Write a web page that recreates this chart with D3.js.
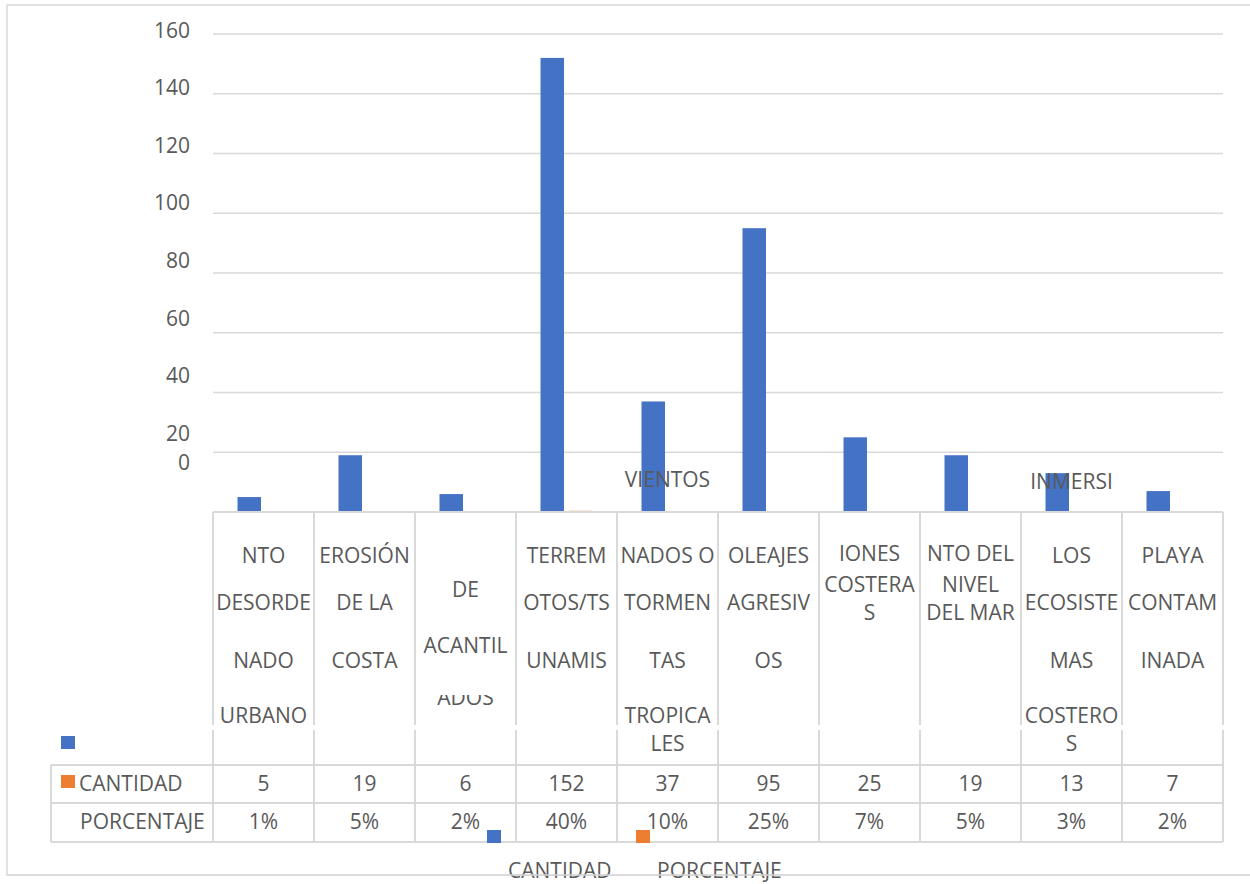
<!DOCTYPE html>
<html>
<head>
<meta charset="utf-8">
<script src="https://cdn.jsdelivr.net/npm/d3@7"></script>
<style>
  html, body { margin: 0; padding: 0; background: #fff; }
  svg { display: block; }
  text { font-family: "Open Sans", "Noto Sans", sans-serif; fill: #595959; }
</style>
</head>
<body>
<svg id="chart" width="1250" height="884"></svg>
<script>
// ---------------- DATA ----------------
const categories = [
  "CRECIMIENTO DESORDENADO URBANO",
  "EROSIÓN DE LA COSTA",
  "DESPRENDIMIENTO DE ACANTILADOS",
  "TERREMOTOS/TSUNAMIS",
  "VIENTOS HURACANADOS O TORMENTAS TROPICALES",
  "OLEAJES AGRESIVOS",
  "INUNDACIONES COSTERAS",
  "AUMENTO DEL NIVEL DEL MAR",
  "INMERSION DE LOS ECOSISTEMAS COSTEROS",
  "PLAYA CONTAMINADA"
];
// visible (wrapped / truncated) header text of each category
const categoryLines = [
  ["NTO", "DESORDE", "NADO", "URBANO"],
  ["EROSIÓN", "DE LA", "COSTA"],
  ["DE", "ACANTIL", "ADOS"],
  ["TERREM", "OTOS/TS", "UNAMIS"],
  ["NADOS O", "TORMEN", "TAS", "TROPICA", "LES"],
  ["OLEAJES", "AGRESIV", "OS"],
  ["IONES", "COSTERA", "S"],
  ["NTO DEL", "NIVEL", "DEL MAR"],
  ["LOS", "ECOSISTE", "MAS", "COSTERO", "S"],
  ["PLAYA", "CONTAM", "INADA"]
];
// fragments that spilled above the table
const overflowText = ["", "", "", "", "VIENTOS", "", "", "", "INMERSI", ""];
const seriesNames = ["CANTIDAD", "PORCENTAJE"];
const cantidad = [5, 19, 6, 152, 37, 95, 25, 19, 13, 7];
const porcentaje = [0.01, 0.05, 0.02, 0.40, 0.10, 0.25, 0.07, 0.05, 0.03, 0.02];
const yTicks = [0, 20, 40, 60, 80, 100, 120, 140, 160];

// ---------------- LAYOUT ----------------
const colors = { CANTIDAD: "#4472C4", PORCENTAJE: "#ED7D31" };
const gridColor = "#d9d9d9";
const FS = 21;

const svg = d3.select("#chart");

// outer chart border
svg.append("rect").attr("x", 7).attr("y", 5).attr("width", 1300).attr("height", 870)
  .attr("fill", "none").attr("stroke", gridColor).attr("stroke-width", 1.5);

const x = d3.scaleBand().domain(categories).range([213, 1223]).padding(0);
const xs = d3.scaleBand().domain(seriesNames).range([24.5, 76.5]).paddingInner(0.175);
const y = d3.scaleLinear().domain([0, 160]).range([512, 34]);
// tick-label placement as rendered in the original (labels drift from gridlines)
const yLabel = d3.scaleLinear().domain([160, 20, 0]).range([37.5, 441, 469.5]);

// gridlines
svg.append("g").selectAll("line").data(yTicks.filter(d => d > 0)).join("line")
  .attr("x1", 213).attr("x2", 1223)
  .attr("y1", d => y(d)).attr("y2", d => y(d))
  .attr("stroke", gridColor).attr("stroke-width", 1.5);

// y labels
svg.append("g").selectAll("text").data(yTicks).join("text")
  .attr("x", 190).attr("y", d => yLabel(d))
  .attr("text-anchor", "end").attr("font-size", FS)
  .text(d => d);

// bars
const rows = categories.map((c, i) => ({ cat: c, CANTIDAD: cantidad[i], PORCENTAJE: porcentaje[i] }));
const barG = svg.append("g");
seriesNames.forEach(s => {
  barG.selectAll("rect." + s).data(rows).join("rect")
    .attr("class", s)
    .attr("x", d => x(d.cat) + xs(s))
    .attr("width", xs.bandwidth())
    .attr("y", d => y(d[s]))
    .attr("height", d => y(0) - y(d[s]))
    .attr("fill", colors[s]);
});

// overflow fragments above table
svg.append("g").selectAll("text").data(categories.map((c, i) => ({ c, t: overflowText[i], i }))).join("text")
  .attr("x", d => x(d.c) + x.bandwidth() / 2)
  .attr("y", d => d.i === 4 ? 487 : 489)
  .attr("text-anchor", "middle").attr("font-size", FS)
  .text(d => d.t);

// ---------- data table ----------
const tableTop = 512, headBottom = 765, row1Bottom = 803, row2Bottom = 842;
const tLeft = 51, tRight = 1223;
const tg = svg.append("g").attr("stroke", gridColor).attr("stroke-width", 2);
// header row top
tg.append("line").attr("x1", 213).attr("x2", tRight).attr("y1", tableTop).attr("y2", tableTop);
// horizontal rows
[headBottom, row1Bottom, row2Bottom].forEach(yy =>
  tg.append("line").attr("x1", tLeft).attr("x2", tRight).attr("y1", yy).attr("y2", yy));
// vertical boundaries
const bounds = categories.map(c => x(c)).concat([x.range()[1]]);
bounds.forEach(bx => {
  tg.append("line").attr("x1", bx).attr("x2", bx).attr("y1", tableTop).attr("y2", 725);
  tg.append("line").attr("x1", bx).attr("x2", bx).attr("y1", 730).attr("y2", row2Bottom);
});
tg.append("line").attr("x1", tLeft).attr("x2", tLeft).attr("y1", headBottom).attr("y2", row2Bottom);

// header labels
const baseA = [562.5, 609.5, 667.5, 722.5, 751];
const baseB = [560.7, 591.7, 620];
const baseC = [596.7, 653.3, 705];
function baselines(i) {
  if (i === 2) return baseC;
  if (i === 6 || i === 7) return baseB;
  return baseA;
}
const defs = svg.append("defs");
defs.append("clipPath").attr("id", "clipAdos").append("rect")
  .attr("x", 0).attr("y", 695).attr("width", 1250).attr("height", 12);

const hg = svg.append("g");
categories.forEach((c, i) => {
  const cx = x(c) + x.bandwidth() / 2;
  categoryLines[i].forEach((t, j) => {
    const el = hg.append("text")
      .attr("x", cx).attr("y", baselines(i)[j])
      .attr("text-anchor", "middle").attr("font-size", FS)
      .text(t);
    if (i === 2 && j === 2) el.attr("clip-path", "url(#clipAdos)");
  });
});

// table values
const vg = svg.append("g");
vg.selectAll("text.c").data(rows).join("text").attr("class", "c")
  .attr("x", d => x(d.cat) + x.bandwidth() / 2).attr("y", 791)
  .attr("text-anchor", "middle").attr("font-size", FS)
  .text(d => d.CANTIDAD);
vg.selectAll("text.p").data(rows).join("text").attr("class", "p")
  .attr("x", d => x(d.cat) + x.bandwidth() / 2).attr("y", 829)
  .attr("text-anchor", "middle").attr("font-size", FS)
  .text(d => d3.format(".0%")(d.PORCENTAJE));

// row labels and keys in the table
svg.append("rect").attr("x", 61).attr("y", 736).attr("width", 14).attr("height", 13).attr("fill", colors.CANTIDAD);
svg.append("rect").attr("x", 61).attr("y", 775).attr("width", 14).attr("height", 13).attr("fill", colors.PORCENTAJE);
svg.append("text").attr("x", 79).attr("y", 791).attr("font-size", FS).text(seriesNames[0]);
svg.append("text").attr("x", 80).attr("y", 829).attr("font-size", FS).text(seriesNames[1]);

// bottom legend
const legendX = d3.scaleOrdinal().domain(seriesNames).range([487, 636]);
const lg = svg.append("g");
seriesNames.forEach(s => {
  lg.append("rect").attr("x", legendX(s)).attr("y", 830).attr("width", 14).attr("height", 13).attr("fill", colors[s]);
  lg.append("text").attr("x", legendX(s) + 21).attr("y", 878).attr("font-size", FS).text(s);
});
// border line drawn across legend text as in original
svg.append("line").attr("x1", 7).attr("x2", 1250).attr("y1", 875).attr("y2", 875)
  .attr("stroke", gridColor).attr("stroke-width", 1.5);
</script>
</body>
</html>
